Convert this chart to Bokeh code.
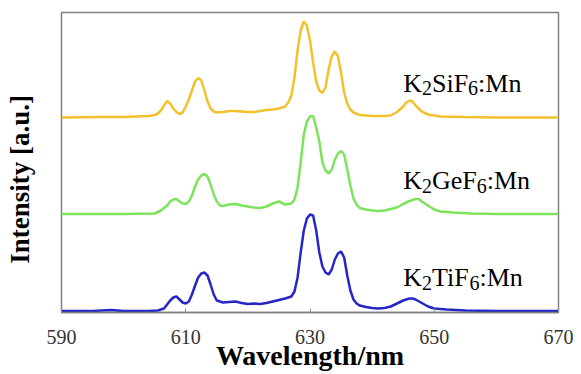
import math
from bokeh.plotting import figure
from bokeh.models import Range1d, FixedTicker, ColumnDataSource
from bokeh.embed import file_html
from bokeh.resources import INLINE
from bokeh.core.properties import value

# ---------------- data ----------------
x_ticks = [590, 610, 630, 650, 670]

wl_ti = [590, 595, 598, 600, 604, 605.5, 606.5, 607, 607.5, 608, 608.5, 609, 609.5, 610, 610.5,
         611, 611.5, 612, 612.5, 613, 613.5, 614, 614.5, 615, 616, 617, 618, 619, 620, 621,
         622, 623, 624, 625, 626, 627, 627.5, 628, 628.5, 629, 629.5, 630, 630.5, 631, 631.5,
         632, 632.5, 633, 633.5, 634, 634.5, 635, 635.5, 636, 636.5, 637, 637.5, 638, 639, 640,
         641, 642, 643, 644, 645, 646, 646.5, 647, 648, 649, 650, 652, 655, 660, 665, 670]
int_ti = [1.5, 1.5, 2.5, 1.5, 1.5, 2, 4, 8, 12, 15, 16, 13, 10, 9, 11,
          18, 27, 35, 39, 40, 37, 28, 18, 12, 10, 10.5, 11, 9.5, 8.5, 9,
          8.5, 9.5, 11, 12.5, 14, 16, 21, 35, 60, 82, 94, 98, 97, 82, 60,
          46, 40, 38, 43, 53, 59, 61, 55, 37, 22, 13, 9, 7, 5.5, 4.5,
          4, 4.5, 6, 9, 12, 14, 14, 13, 9.5, 6, 4, 3, 2, 1.5, 1.5, 1.5]

wl_ge = [590, 600, 605, 606, 607, 607.5, 608, 608.5, 609, 609.5, 610, 610.5, 611, 611.5, 612,
         612.5, 613, 613.5, 614, 614.5, 615, 615.5, 616, 617, 618, 619, 620, 621, 622, 623,
         624, 625, 626, 627, 627.5, 628, 628.5, 629, 629.5, 630, 630.5, 631, 631.5, 632, 632.5,
         633, 633.5, 634, 634.5, 635, 635.5, 636, 636.5, 637, 637.5, 638, 639, 640, 641, 642,
         643, 644, 645, 646, 647, 647.5, 648, 649, 650, 651, 653, 656, 660, 670]
int_ge = [98.5, 98.5, 99, 102, 107, 111, 113, 113.5, 111, 109, 108.5, 111, 117, 126, 133,
          137, 138.5, 136, 128, 118, 111, 107, 106.5, 108, 108.5, 107, 106, 105, 104.5, 106,
          109, 111, 108, 109, 113, 125, 150, 178, 191, 196, 196.5, 185, 171, 150, 142,
          139, 143, 153, 159, 161.5, 158, 143, 127, 114, 108, 104.5, 103, 102, 101.5, 102,
          103.5, 105, 108.5, 111.5, 113.5, 113.5, 111, 107, 103, 101, 100, 99, 98.5, 98.5]

wl_si = [590, 596, 600, 604, 605, 605.5, 606, 606.5, 607, 607.5, 608, 608.5, 609, 609.5, 610,
         610.5, 611, 611.5, 612, 612.5, 613, 613.5, 614, 614.5, 615, 616, 617, 618, 619, 620,
         621, 622, 623, 624, 625, 626, 626.5, 627, 627.5, 628, 628.5, 629, 629.5, 630, 630.5,
         631, 631.5, 632, 632.5, 633, 633.5, 634, 634.5, 635, 635.5, 636, 636.5, 637, 638, 640,
         642, 643, 644, 645, 645.5, 646, 646.5, 647, 648, 649, 651, 655, 660, 670]
int_si = [195, 195.5, 195.5, 196.5, 197.5, 199, 202, 207, 211.5, 209, 204, 200.5, 198.5, 200, 206,
          213, 222, 231, 234.5, 232, 222, 211, 204, 201, 200, 200.5, 201.5, 201.5, 201, 200.5,
          200.5, 201.5, 202.5, 203, 204, 206, 210, 217, 235, 262, 282, 291, 287, 272, 250,
          231, 222, 219.5, 225, 243, 256, 261, 256, 240, 220, 209, 203, 200, 197.5, 196.5,
          196.5, 197, 200.5, 206, 210, 212, 211, 207, 201, 198, 196, 195.5, 195, 195]

# label pieces: (text, is_subscript)
labels_si = [("K", False), ("2", True), ("SiF", False), ("6", True), (":Mn", False)]
labels_ge = [("K", False), ("2", True), ("GeF", False), ("6", True), (":Mn", False)]
labels_ti = [("K", False), ("2", True), ("TiF", False), ("6", True), (":Mn", False)]

x_title = "Wavelength/nm"
y_title = "Intensity [a.u.]"

# ---------------- figure ----------------
SERIF = "Liberation Serif"
p = figure(width=581, height=374, output_backend="svg", toolbar_location=None,
           x_range=Range1d(590, 670), y_range=Range1d(0, 300),
           min_border_left=61, min_border_right=23, min_border_top=12, min_border_bottom=62)
p.background_fill_color = "white"
p.border_fill_color = "white"
p.xgrid.visible = False
p.ygrid.visible = False
p.outline_line_color = "#808080"
p.outline_line_width = 1.5

p.line(wl_si, int_si, line_color="#F2C12E", line_width=2.5)
p.line(wl_ge, int_ge, line_color="#7DE35C", line_width=2.5)
p.line(wl_ti, int_ti, line_color="#2626C6", line_width=2.5)

ax = p.xaxis[0]
ax.ticker = FixedTicker(ticks=x_ticks)
ax.axis_line_color = "#808080"
ax.axis_line_width = 1.5
ax.major_tick_in = 4
ax.major_tick_out = 0
ax.major_tick_line_color = "#909090"
ax.minor_tick_line_color = None
ax.major_label_standoff = 17
ax.major_label_text_font = SERIF
ax.major_label_text_font_size = "20px"
ax.major_label_text_color = "#333333"
ax.axis_label = x_title
ax.axis_label_text_font = SERIF
ax.axis_label_text_font_style = "bold"
ax.axis_label_text_font_size = "28px"
ax.axis_label_text_color = "black"
ax.axis_label_standoff = -7

ay = p.yaxis[0]
ay.ticker = FixedTicker(ticks=[])
ay.axis_line_color = None
ay.major_tick_in = 0
ay.major_tick_out = 0
ay.minor_tick_line_color = None
ay.major_label_standoff = 0
ay.major_label_text_font_size = "0px"
# trailing no-break spaces push the centred title down to where the reference has it
ay.axis_label = y_title + "\u00a0" * 5
ay.axis_label_text_font = SERIF
ay.axis_label_text_font_style = "bold"
ay.axis_label_text_font_size = "27px"
ay.axis_label_text_color = "black"
ay.axis_label_standoff = 27

# compound labels with subscripts (Times metrics)
W = {"K": .722, "2": .5, "6": .5, "S": .556, "i": .278, "F": .556, ":": .278, "M": .889,
     "n": .5, "G": .722, "e": .444, "T": .611}
MAIN, SUB, DROP = 26, 20, 5
xs, ys, ts, xo, yo, fs = [], [], [], [], [], []
for parts, yb in [(labels_si, 229.5), (labels_ge, 132), (labels_ti, 35)]:
    off = 0.0
    for txt, sub in parts:
        size = SUB if sub else MAIN
        xs.append(645.0); ys.append(yb); ts.append(txt)
        xo.append(off); yo.append(DROP if sub else 0); fs.append(f"{size}px")
        off += sum(W[c] for c in txt) * size
src = ColumnDataSource(dict(x=xs, y=ys, text=ts, xo=xo, yo=yo, fs=fs))
p.text(x="x", y="y", text="text", x_offset="xo", y_offset="yo", text_font_size="fs",
       text_font=value(SERIF), text_color="black", text_align="left",
       text_baseline="alphabetic", source=src)

open("out.html", "w").write(file_html(p, INLINE))
